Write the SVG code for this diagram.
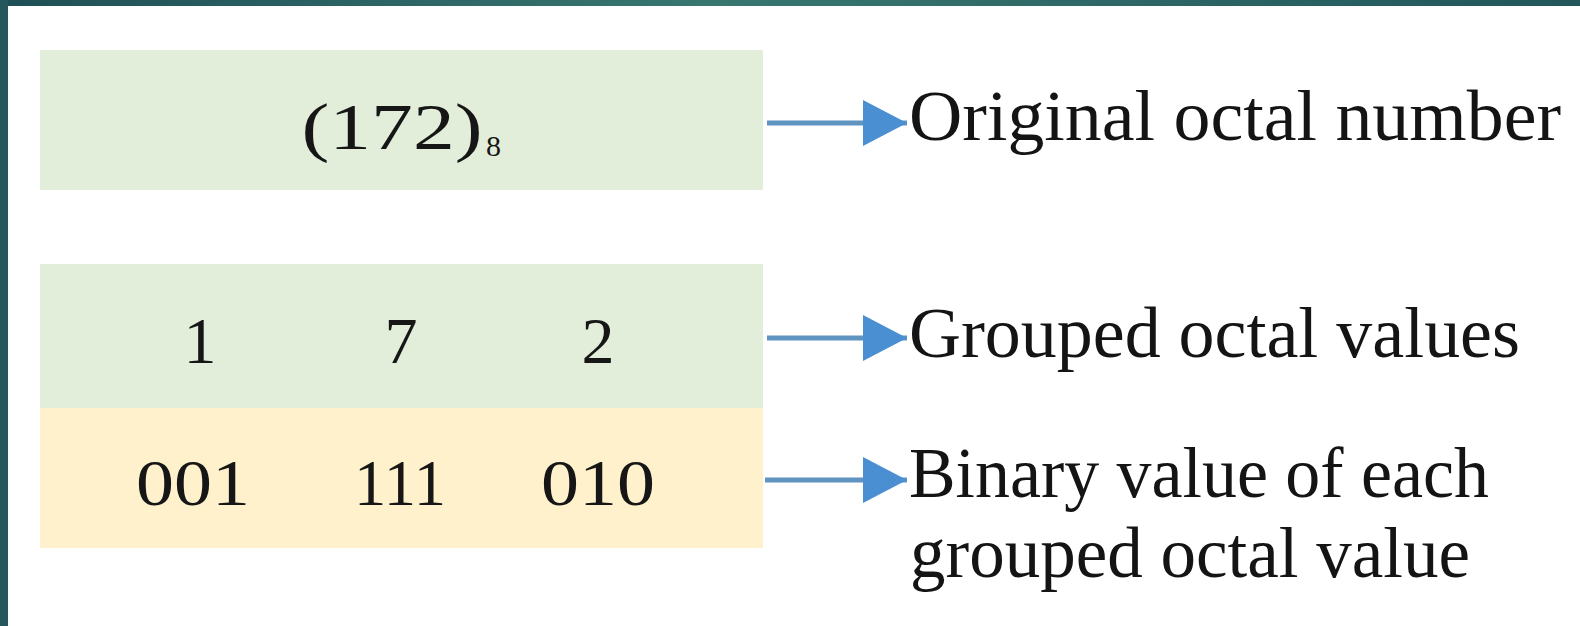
<svg xmlns="http://www.w3.org/2000/svg" width="1580" height="626" viewBox="0 0 1580 626">
<defs>
<linearGradient id="band" x1="0" y1="0" x2="1" y2="0">
<stop offset="0" stop-color="#1f4f56"/>
<stop offset="0.45" stop-color="#387670"/>
<stop offset="1" stop-color="#22565a"/>
</linearGradient>
<marker id="arr" markerUnits="userSpaceOnUse" markerWidth="46" markerHeight="46" refX="44" refY="23" orient="auto">
<path d="M0,0 L44,23 L0,46 Z" fill="#4a8fd2"/>
</marker>
<style>
.num{font-family:"Liberation Serif","Times New Roman",serif;font-size:66px;fill:#161616;text-anchor:middle}
.lbl{font-family:"Liberation Serif","Times New Roman",serif;font-size:71px;fill:#141414}
.conn{stroke:#5f93c0;stroke-width:5;fill:none}
</style>
</defs>
<rect x="0" y="0" width="1580" height="626" fill="#ffffff"/>
<rect x="0" y="0" width="1580" height="6" fill="url(#band)"/>
<rect x="0" y="0" width="8" height="626" fill="#25575c"/>

<g id="node-original">
<rect x="40" y="50" width="723" height="140" fill="#e2eed9"/>
<text x="392" y="149" class="num" textLength="181" lengthAdjust="spacingAndGlyphs">(172)</text>
<text x="486" y="156" font-family="Liberation Serif, serif" font-size="30" fill="#161616">8</text>
</g>

<g id="node-grouped">
<rect x="40" y="264" width="723" height="144" fill="#e2eed9"/>
<text x="200" y="363" class="num">1</text>
<text x="401" y="363" class="num">7</text>
<text x="598" y="363" class="num">2</text>
</g>

<g id="node-binary">
<rect x="40" y="408" width="723" height="140" fill="#fff1cc"/>
<text x="193" y="505" class="num" textLength="114" lengthAdjust="spacingAndGlyphs">001</text>
<text x="400" y="505" class="num" textLength="92" lengthAdjust="spacingAndGlyphs">111</text>
<text x="598" y="505" class="num" textLength="114" lengthAdjust="spacingAndGlyphs">010</text>
</g>

<g id="connectors">
<line x1="767" y1="123" x2="907" y2="123" class="conn" marker-end="url(#arr)"/>
<line x1="767" y1="338" x2="907" y2="338" class="conn" marker-end="url(#arr)"/>
<line x1="765" y1="480" x2="907" y2="480" class="conn" marker-end="url(#arr)"/>
</g>

<g id="label-original">
<text x="909" y="140" class="lbl" textLength="652" lengthAdjust="spacingAndGlyphs">Original octal number</text>
</g>
<g id="label-grouped">
<text x="909" y="357" class="lbl" textLength="611" lengthAdjust="spacingAndGlyphs">Grouped octal values</text>
</g>
<g id="label-binary">
<text x="909" y="497" class="lbl" textLength="580" lengthAdjust="spacingAndGlyphs">Binary value of each</text>
<text x="910" y="577" class="lbl" textLength="560" lengthAdjust="spacingAndGlyphs">grouped octal value</text>
</g>
</svg>
